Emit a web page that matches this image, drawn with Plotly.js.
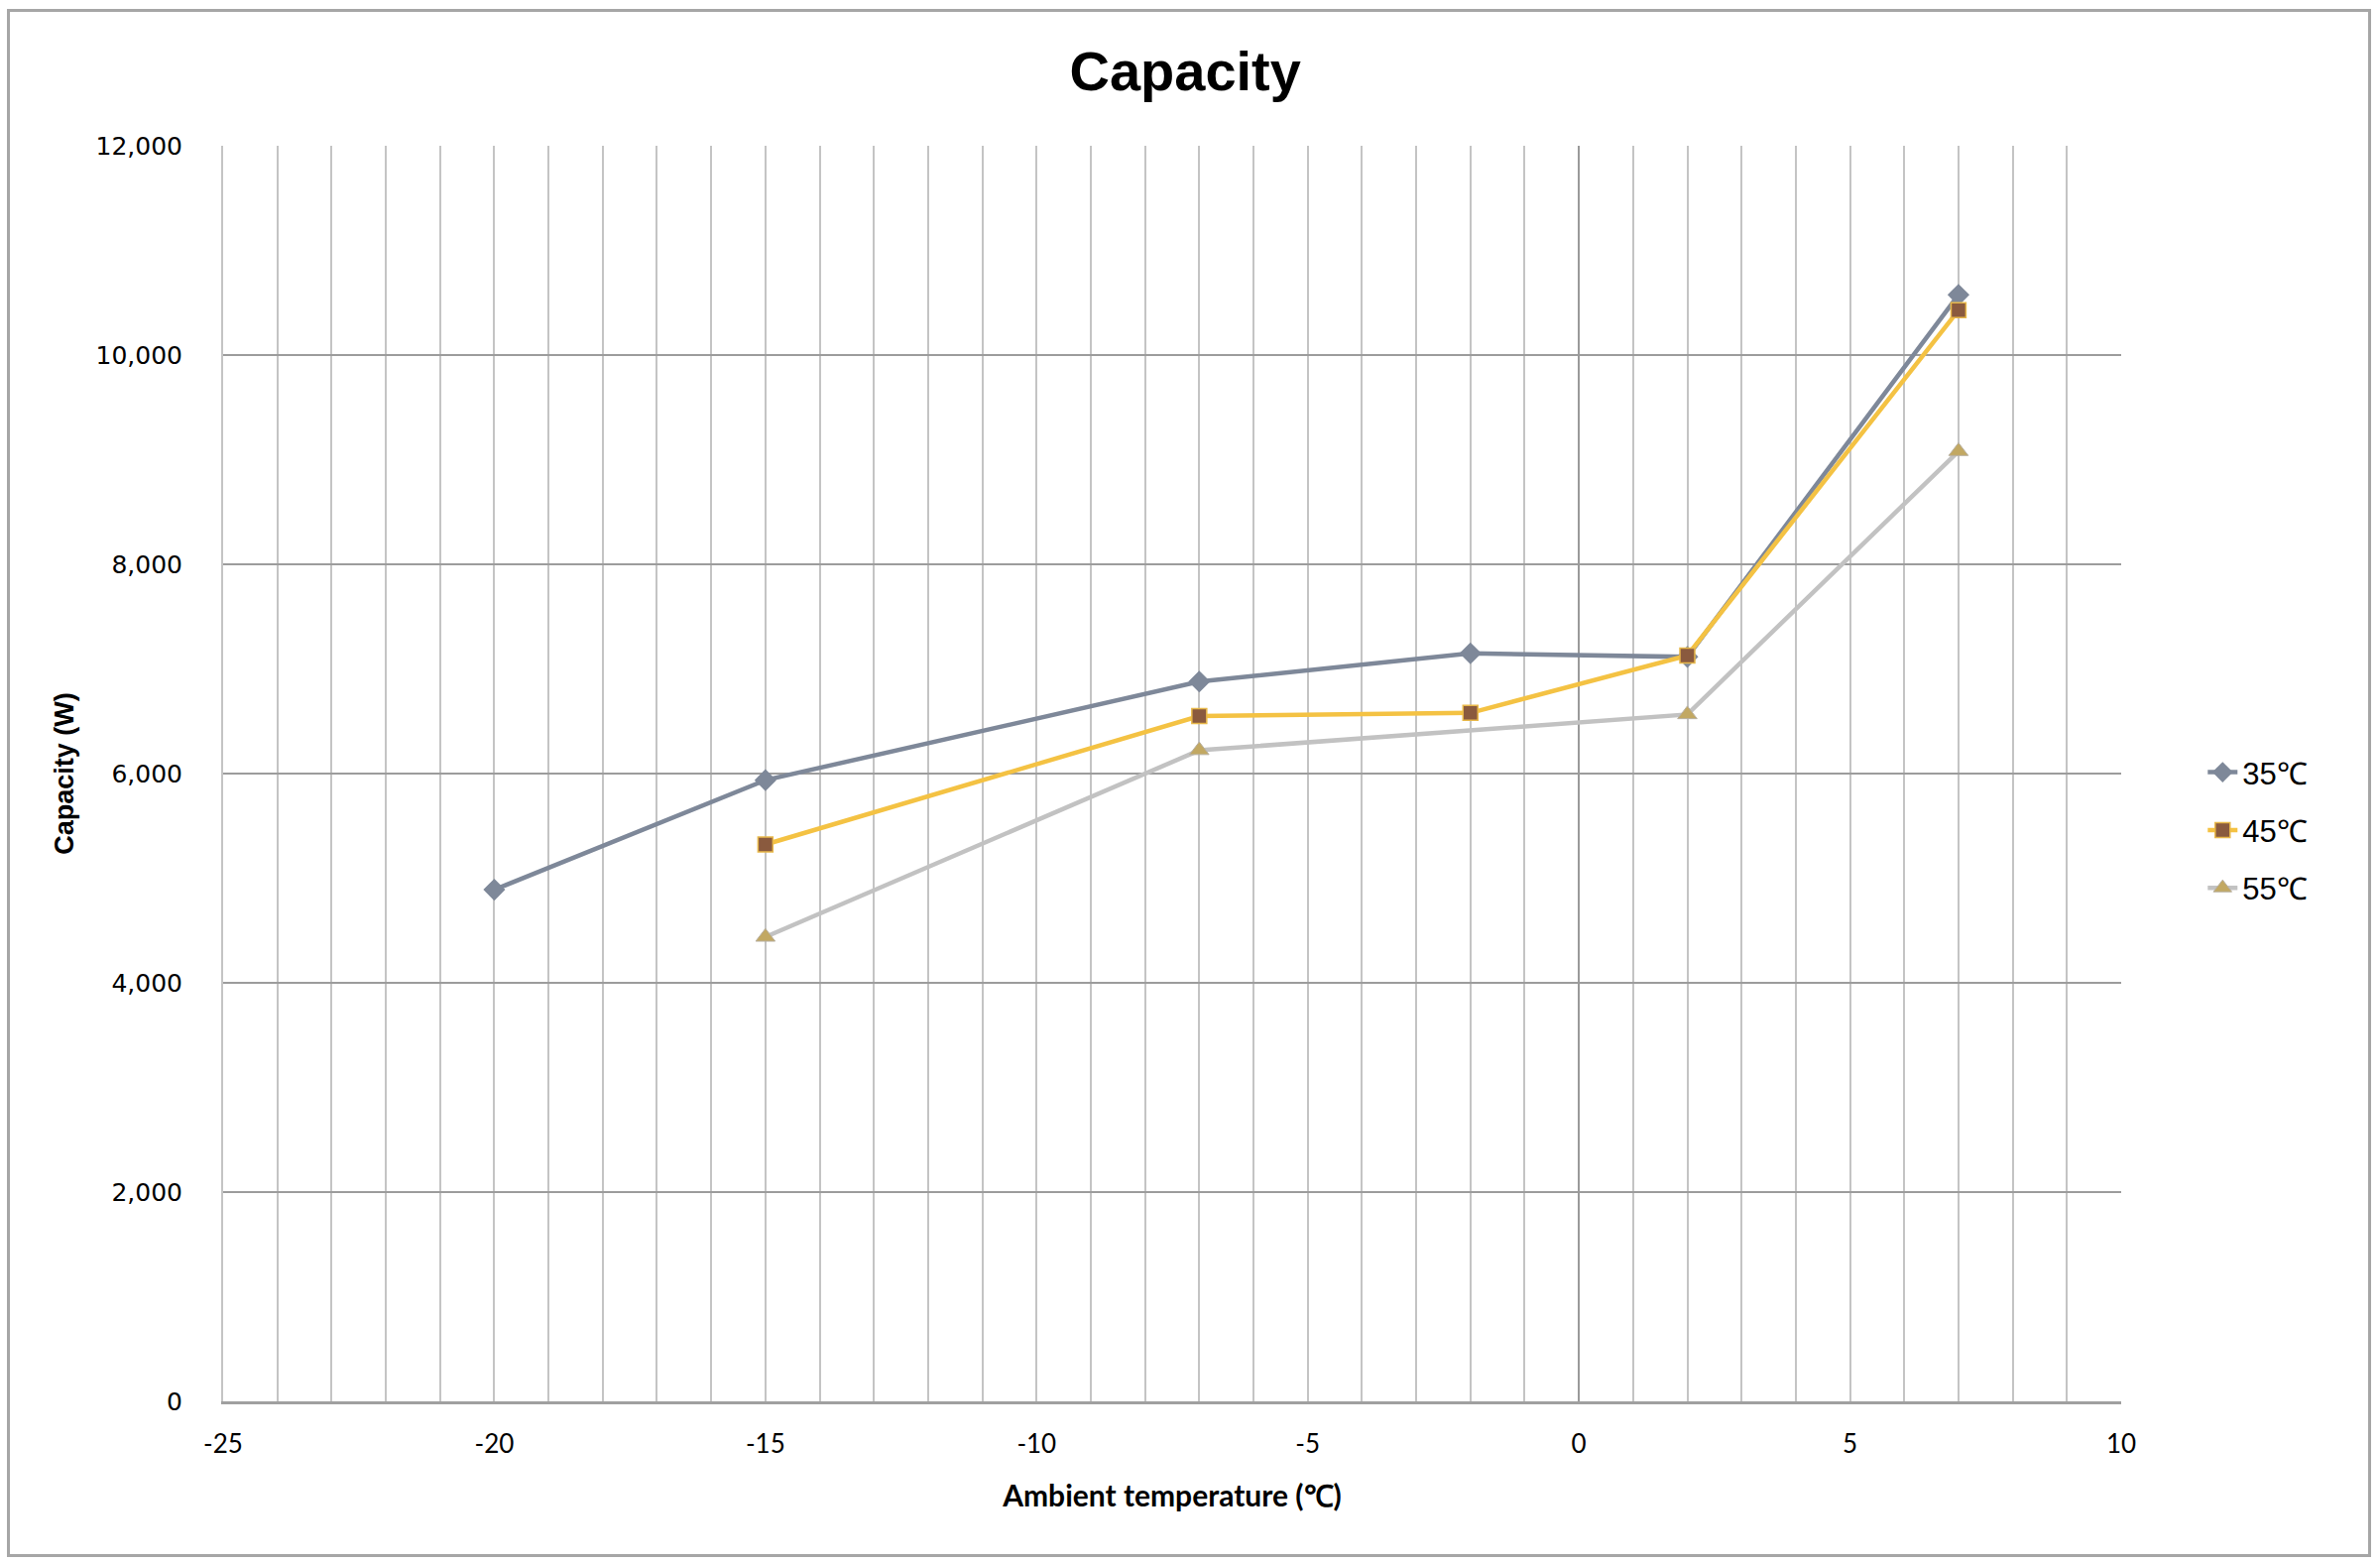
<!DOCTYPE html>
<html>
<head>
<meta charset="utf-8">
<script src="https://cdn.plot.ly/plotly-3.0.1.min.js"></script>
<style>
  html, body { margin: 0; padding: 0; background: #ffffff; }
  #chart { width: 2400px; height: 1576px; }
  #frame { position: absolute; left: 7px; top: 9px; width: 2378px; height: 1555px; border: 3px solid #a6a6a6; pointer-events: none; }
</style>
</head>
<body>
<div id="chart"></div>
<div id="frame"></div>
<script>
// Data
const seriesNames = ["35℃", "45℃", "55℃"];
const x35 = [-20, -15, -7, -2, 2, 7];
const y35 = [4890, 5937, 6879, 7150, 7115, 10575];
const x45 = [-15, -7, -2, 2, 7];
const y45 = [5322, 6550, 6580, 7128, 10428];
const x55 = [-15, -7, 2, 7];
const y55 = [4438, 6222, 6565, 9080];

const xTickVals = [-25, -20, -15, -10, -5, 0, 5, 10];
const xTickText = ["-25", "-20", "-15", "-10", "-5", "0", "5", "10"];

const chartTitle = "Capacity";
const xTitle = "Ambient temperature (℃)";
const yTitle = "Capacity (W)";

const traces = [
  {
    x: x35, y: y35, name: seriesNames[0], legendgroup: "a",
    type: "scatter", mode: "lines+markers",
    line: { color: "#7e8899", width: 4.5 },
    marker: { symbol: "diamond", size: 17, color: "#7e8899", line: { width: 0 } }
  },
  {
    x: x45, y: y45, name: seriesNames[1], legendgroup: "b",
    type: "scatter", mode: "lines+markers",
    line: { color: "#f4c243", width: 4.5 },
    marker: { symbol: "square", size: 15, color: "#8a5a3e", line: { color: "#e8b84a", width: 1.5 } }
  },
  {
    x: x55, y: y55, name: seriesNames[2], legendgroup: "c",
    type: "scatter", mode: "lines+markers",
    line: { color: "#c2c2c2", width: 4.5 },
    marker: { symbol: "triangle-up", size: 17, color: "#c2a862", line: { color: "#b8b0a0", width: 1 } }
  }
];

const layout = {
  width: 2400, height: 1576,
  paper_bgcolor: "#ffffff", plot_bgcolor: "#ffffff",
  margin: { l: 225, r: 261, t: 147, b: 163 },
  title: {
    text: chartTitle,
    font: { family: "Liberation Sans, Arial, sans-serif", size: 56, color: "#000000", weight: "bold" },
    x: 0.498, xanchor: "center", y: 1 - 71 / 1576, yanchor: "middle", yref: "container"
  },
  xaxis: {
    range: [-25, 10],
    tickmode: "array", tickvals: xTickVals, ticktext: xTickText,
    showgrid: true, gridcolor: "#c4c4c4", gridwidth: 2,
    minor: { dtick: 1, tick0: -25, showgrid: true, gridcolor: "#c4c4c4", gridwidth: 2, ticks: "" },
    zeroline: true, zerolinecolor: "#9a9a9a", zerolinewidth: 2,
    showline: true, linecolor: "#a0a0a0", linewidth: 3,
    ticks: "", ticklen: 0, ticklabelstandoff: 18,
    tickfont: { family: "Lato, Liberation Sans, sans-serif", size: 26, color: "#000000" },
    title: { text: xTitle, standoff: 28,
      font: { family: "Lato, Liberation Sans, sans-serif", size: 30, color: "#000000", weight: "bold" } }
  },
  yaxis: {
    range: [0, 12000], dtick: 2000,
    showgrid: true, gridcolor: "#9c9c9c", gridwidth: 2,
    zeroline: false,
    showline: true, linecolor: "#c4c4c4", linewidth: 2,
    ticks: "", separatethousands: true, tickformat: ",d",
    tickfont: { family: "DejaVu Sans, Verdana, sans-serif", size: 25, color: "#000000" },
    ticklabelstandoff: 34,
    title: { text: yTitle, standoff: 14,
      font: { family: "Liberation Sans, Arial, sans-serif", size: 27, color: "#000000", weight: "bold" } }
  },
  showlegend: true,
  legend: {
    x: 1.043, xanchor: "left", y: 0.455, yanchor: "middle",
    traceorder: "grouped", tracegroupgap: 15,
    font: { family: "Liberation Sans, Arial, sans-serif", size: 31, color: "#000000" },
    bgcolor: "rgba(0,0,0,0)"
  }
};

Plotly.newPlot("chart", traces, layout, { displayModeBar: false, staticPlot: true });
</script>
</body>
</html>
